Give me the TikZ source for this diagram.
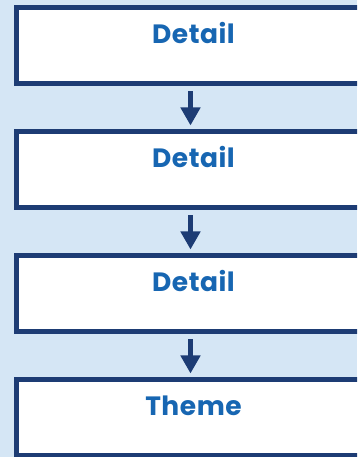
\documentclass[tikz,border=0pt]{standalone}
\usepackage{fontspec}
\setmainfont{Poppins}[LetterSpace=2]
\usetikzlibrary{arrows.meta}
\definecolor{bgblue}{HTML}{D5E6F5}
\definecolor{navy}{HTML}{1D3C74}
\definecolor{txtblue}{HTML}{1766B2}
\tikzset{
  stepbox/.style={draw=navy, line width=5pt, fill=white, minimum width=348pt, minimum height=76.5pt, inner sep=0pt},
  steptext/.style={text=txtblue, font=\fontsize{26.5}{30}\selectfont\bfseries, anchor=base, inner sep=0pt},
  flow/.style={draw=navy, line width=5pt, -{Triangle[width=19pt,length=18pt]}, shorten <=5pt, shorten >=3.5pt}
}
\begin{document}
\begin{tikzpicture}[x=1pt,y=1pt]
\useasboundingbox (0,0) rectangle (357,457);
\clip (0,0) rectangle (357,457);
\fill[bgblue] (0,0) rectangle (357,457);
\node[stepbox] (b1) at (190.5,411.25) {};
\node[stepbox] (b2) at (190.5,287.25) {};
\node[stepbox] (b3) at (190.5,163.25) {};
\node[stepbox] (b4) at (190.5,39.25) {};
\node[steptext] (t1) at ([xshift=3pt,yshift=2.5pt]b1.center) {Detail};
\node[steptext] (t2) at ([xshift=3pt,yshift=2.5pt]b2.center) {Detail};
\node[steptext] (t3) at ([xshift=3pt,yshift=2.5pt]b3.center) {Detail};
\node[steptext] (t4) at ([xshift=3pt,yshift=2pt]b4.center) {Theme};
\draw[flow] (b1.south) -- (b2.north);
\draw[flow] (b2.south) -- (b3.north);
\draw[flow] (b3.south) -- (b4.north);
\end{tikzpicture}
\end{document}
